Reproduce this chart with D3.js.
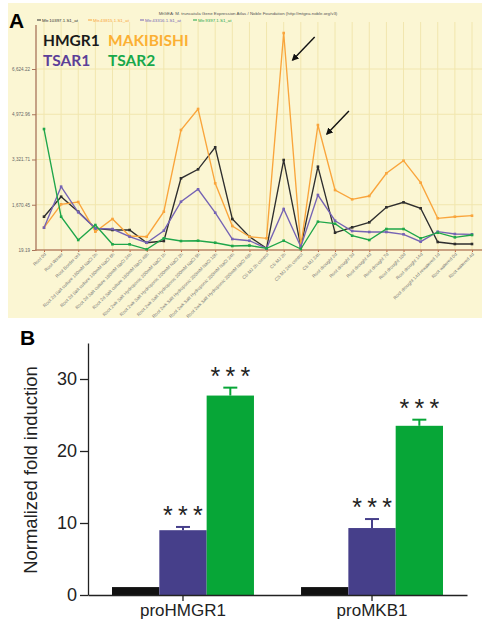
<!DOCTYPE html>
<html>
<head>
<meta charset="utf-8">
<title>HMGR1 / MAKIBISHI / TSAR</title>
<script src="https://cdn.jsdelivr.net/npm/d3@7"></script>
<style>
  body { margin: 0; background: #fff; }
  svg { display: block; }
</style>
</head>
<body>
<svg width="482" height="625" id="mainsvg"></svg>
<script>
// panel A data (MtGEA expression)
const categories = [
  'Root 0d', 'Root Winter', 'Root Border cell',
  'Root 2d Salt culture 180mM NaCl 2h', 'Root 2d Salt culture 180mM NaCl 6h',
  'Root 2d Salt culture 180mM NaCl 24h', 'Root 2d Salt culture 180mM NaCl 48h',
  'Root 2wk Salt Hydroponic 200mM NaCl 1h', 'Root 2wk Salt Hydroponic 200mM NaCl 2h',
  'Root 2wk Salt Hydroponic 200mM NaCl 5h', 'Root 2wk Salt Hydroponic 200mM NaCl 10h',
  'Root 2wk Salt Hydroponic 200mM NaCl 24h', 'Root 2wk Salt Hydroponic 200mM NaCl 48h',
  'CS MJ 2h control', 'CS MJ 2h', 'CS MJ 24h control', 'CS MJ 24h',
  'Root drought 2d', 'Root drought 3d', 'Root drought 4d', 'Root drought 7d',
  'Root drought 10d', 'Root drought 14d', 'Root drought 14d rewatered 1d',
  'Root watered 0d', 'Root watered 4d'
];
const hmgr1 = [1234, 1964, 1417, 811, 749, 749, 285, 347, 2635, 2964, 3766, 1150, 504,
  81, 3303, 139, 3059, 650, 847, 1030, 1577, 1760, 1541, 311, 238, 238];
const makibishi = [833, 1687, 1771, 687, 1150, 530, 504, 1417, 4398, 5164, 2453, 895, 504,
  446, 7937, 139, 4580, 2208, 1869, 1989, 2818, 3278, 2475, 1176, 1234, 1271];
const tsar1 = [833, 2329, 1395, 811, 785, 504, 285, 723, 1781, 2234, 1380, 420, 358,
  81, 1515, 139, 2026, 1088, 712, 676, 676, 592, 322, 687, 603, 592];
const tsar2 = [4434, 1234, 384, 931, 227, 227, 45, 446, 347, 358, 285, 165, 183,
  81, 358, 56, 1052, 979, 541, 384, 785, 785, 446, 650, 482, 566];
const yTicksA = [19.19, 1670.45, 3321.71, 4972.96, 6624.22];
const probes = ['Mtr.10397.1.S1_at', 'Mtr.43815.1.S1_at', 'Mtr.43316.1.S1_at', 'Mtr.9397.1.S1_at'];
const geneNames = ['HMGR1', 'MAKIBISHI', 'TSAR1', 'TSAR2'];
const arrowAt = ['CS MJ 2h', 'CS MJ 24h'];

// panel B data (promoter transactivation)
const promoters = ['proHMGR1', 'proMKB1'];
const conditions = ['control', 'TSAR1', 'TSAR2'];
const controlMean = [1.1, 1.1];
const tsar1Mean = [9.0, 9.3];
const tsar2Mean = [27.7, 23.5];
const controlErr = [0, 0];
const tsar1Err = [0.45, 1.25];
const tsar2Err = [1.1, 0.85];
const yTicksB = [0, 10, 20, 30];

const svg = d3.select('#mainsvg');

// ---------------- panel A ----------------
const lineCols = ['#2e2e2e', '#f9a53c', '#7563b4', '#1fa64a'];
const nameCols = ['#1a1a1a', '#fbb034', '#5c3f98', '#18a84a'];
const series = [hmgr1, makibishi, tsar1, tsar2];

svg.append('rect').attr('x', 8).attr('y', 3).attr('width', 474).attr('height', 315)
  .attr('fill', '#fbf6d3');

const xA = d3.scalePoint().domain(categories).range([44, 472]);
const yA = d3.scaleLinear().domain([yTicksA[0], yTicksA[4]]).range([250, 69]);

const gA = svg.append('g').attr('id', 'panelA');

// grid
gA.selectAll('.vgrid').data(categories).join('line')
  .attr('x1', d => xA(d)).attr('x2', d => xA(d)).attr('y1', 22).attr('y2', 250)
  .attr('stroke', '#f1e6ae').attr('stroke-width', 1);
gA.selectAll('.hgrid').data(yTicksA.slice(1)).join('line')
  .attr('x1', 36).attr('x2', 482).attr('y1', d => yA(d)).attr('y2', d => yA(d))
  .attr('stroke', '#f1e6ae').attr('stroke-width', 1);

// axes
const yAxisA = d3.axisLeft(yA).tickValues(yTicksA).tickFormat(d3.format(',.2f'))
  .tickSize(4).tickSizeOuter(0);
const yAxA = gA.append('g').attr('transform', 'translate(36,0)').call(yAxisA);
yAxA.select('.domain').remove();
yAxA.selectAll('line').attr('stroke', '#a8745a');
yAxA.selectAll('text').attr('font-size', 4.6).attr('fill', '#666')
  .attr('font-family', 'Liberation Sans, Arial, sans-serif').attr('x', -6);

const xAxisA = d3.axisBottom(xA).tickSize(2).tickSizeOuter(0);
const xAxA = gA.append('g').attr('transform', 'translate(0,250)').call(xAxisA);
xAxA.select('.domain').remove();
xAxA.selectAll('line').attr('stroke', '#c0603a');
xAxA.selectAll('text')
  .attr('font-size', 4.6).attr('fill', '#777')
  .attr('font-family', 'Liberation Sans, Arial, sans-serif')
  .attr('x', -2).attr('y', 3).attr('dy', '0.35em')
  .attr('transform', 'rotate(-45)')
  .style('text-anchor', 'end');

gA.append('line').attr('x1', 36).attr('x2', 36).attr('y1', 25).attr('y2', 251)
  .attr('stroke', '#a8745a').attr('stroke-width', 1.3);
gA.append('line').attr('x1', 35).attr('x2', 482).attr('y1', 250).attr('y2', 250)
  .attr('stroke', '#b88466').attr('stroke-width', 1.5);

// lines and markers
const line = d3.line().x((d, i) => xA(categories[i])).y(d => yA(d));
series.forEach((s, k) => {
  gA.append('path').datum(s).attr('d', line)
    .attr('fill', 'none').attr('stroke', lineCols[k]).attr('stroke-width', 1.35);
  gA.selectAll('.pt' + k).data(s).join('rect')
    .attr('x', (d, i) => xA(categories[i]) - 1.3).attr('y', d => yA(d) - 1.3)
    .attr('width', 2.6).attr('height', 2.6).attr('fill', lineCols[k]);
});

// header and probe legend
gA.append('text').text('MtGEA: M. truncatula Gene Expression Atlas / Noble Foundation (http://mtgea.noble.org/v3)')
  .attr('x', 248).attr('y', 15).attr('text-anchor', 'middle')
  .attr('font-size', 4.4).attr('fill', '#555').attr('font-family', 'Liberation Sans, Arial, sans-serif');
const legX = [37, 88, 140, 193];
probes.forEach((p, k) => {
  gA.append('line').attr('x1', legX[k]).attr('x2', legX[k] + 4).attr('y1', 20).attr('y2', 20)
    .attr('stroke', lineCols[k]).attr('stroke-width', 1);
  gA.append('text').text(p).attr('x', legX[k] + 5).attr('y', 21.5)
    .attr('font-size', 4.4).attr('fill', lineCols[k]).attr('font-family', 'Liberation Sans, Arial, sans-serif');
});

// gene names
const namePos = [[43, 46], [108, 46], [43, 66], [108, 66]];
geneNames.forEach((n, k) => {
  gA.append('text').text(n).attr('x', namePos[k][0]).attr('y', namePos[k][1])
    .attr('font-size', 15.5).attr('font-weight', 'bold').attr('fill', nameCols[k])
    .attr('font-family', 'Lato, Open Sans, sans-serif');
});

// arrows pointing at MAKIBISHI peaks
svg.append('defs').append('marker').attr('id', 'ah')
  .attr('viewBox', '0 0 10 10').attr('refX', 8).attr('refY', 5)
  .attr('markerWidth', 5).attr('markerHeight', 5).attr('orient', 'auto')
  .append('path').attr('d', 'M0,0 L10,5 L0,10 z').attr('fill', '#111');
const arrowDy = [27, 9];
arrowAt.forEach((c, k) => {
  const i = categories.indexOf(c);
  const hx = xA(c) + 9, hy = yA(makibishi[i]) + arrowDy[k];
  gA.append('line').attr('x1', hx + 22).attr('y1', hy - 23).attr('x2', hx).attr('y2', hy)
    .attr('stroke', '#111').attr('stroke-width', 1.4).attr('marker-end', 'url(#ah)');
});

svg.append('text').text('A').attr('x', 9).attr('y', 28)
  .attr('font-size', 21).attr('font-weight', 'bold').attr('fill', '#000')
  .attr('font-family', 'Liberation Sans, Arial, sans-serif');

// ---------------- panel B ----------------
const barCols = ['#111111', '#463f8a', '#07a637'];
const means = [controlMean, tsar1Mean, tsar2Mean];
const errs = [controlErr, tsar1Err, tsar2Err];

const xB0 = d3.scaleBand().domain(promoters).range([88, 467])
  .paddingInner(0.249).paddingOuter(0.127);
const xB1 = d3.scaleBand().domain(conditions).range([0, xB0.bandwidth()]);
const yB = d3.scaleLinear().domain([0, 35]).range([595, 343]);

const gB = svg.append('g').attr('id', 'panelB');

const bars = [];
promoters.forEach((p, i) => {
  conditions.forEach((c, k) => {
    bars.push({ p, c, k, m: means[k][i], e: errs[k][i] });
  });
});

gB.selectAll('.bar').data(bars).join('rect')
  .attr('x', d => xB0(d.p) + xB1(d.c))
  .attr('width', xB1.bandwidth())
  .attr('y', d => yB(d.m))
  .attr('height', d => yB(0) - yB(d.m))
  .attr('fill', d => barCols[d.k]);

// error bars
const withErr = bars.filter(d => d.e > 0);
gB.selectAll('.ev').data(withErr).join('line')
  .attr('x1', d => xB0(d.p) + xB1(d.c) + xB1.bandwidth() / 2)
  .attr('x2', d => xB0(d.p) + xB1(d.c) + xB1.bandwidth() / 2)
  .attr('y1', d => yB(d.m)).attr('y2', d => yB(d.m + d.e))
  .attr('stroke', d => barCols[d.k]).attr('stroke-width', 2);
gB.selectAll('.ec').data(withErr).join('line')
  .attr('x1', d => xB0(d.p) + xB1(d.c) + xB1.bandwidth() / 2 - 7)
  .attr('x2', d => xB0(d.p) + xB1(d.c) + xB1.bandwidth() / 2 + 7)
  .attr('y1', d => yB(d.m + d.e)).attr('y2', d => yB(d.m + d.e))
  .attr('stroke', d => barCols[d.k]).attr('stroke-width', 2);

// significance stars
const starOff = [-15, 0, 15];
withErr.forEach(d => {
  const cx = xB0(d.p) + xB1(d.c) + xB1.bandwidth() / 2;
  starOff.forEach(o => {
    gB.append('text').text('*').attr('x', cx + o).attr('y', yB(d.m + d.e) - 3)
      .attr('text-anchor', 'middle').attr('font-size', 25).attr('fill', '#222')
      .attr('font-family', 'Liberation Sans, Arial, sans-serif');
  });
});

// axes
const yAxisB = d3.axisLeft(yB).tickValues(yTicksB).tickSize(8).tickSizeOuter(0);
const yAxB = gB.append('g').attr('transform', 'translate(88,0)').call(yAxisB);
yAxB.selectAll('text').attr('font-size', 18).attr('fill', '#222')
  .attr('font-family', 'Liberation Sans, Arial, sans-serif');
yAxB.selectAll('line, path').attr('stroke', '#222').attr('stroke-width', 1.3);

const xAxisB = d3.axisBottom(xB0).tickSize(6).tickSizeOuter(0);
const xAxB = gB.append('g').attr('transform', 'translate(0,595)').call(xAxisB);
xAxB.selectAll('text').attr('font-size', 17).attr('fill', '#222')
  .attr('font-family', 'Liberation Sans, Arial, sans-serif');
xAxB.selectAll('line, path').attr('stroke', '#222').attr('stroke-width', 1.3);

gB.append('text').text('Normalized fold induction')
  .attr('transform', 'rotate(-90)').attr('x', -470).attr('y', 37)
  .attr('text-anchor', 'middle').attr('font-size', 18.5).attr('fill', '#222')
  .attr('font-family', 'Liberation Sans, Arial, sans-serif');

svg.append('text').text('B').attr('x', 20).attr('y', 345)
  .attr('font-size', 21).attr('font-weight', 'bold').attr('fill', '#000')
  .attr('font-family', 'Liberation Sans, Arial, sans-serif');
</script>
</body>
</html>
